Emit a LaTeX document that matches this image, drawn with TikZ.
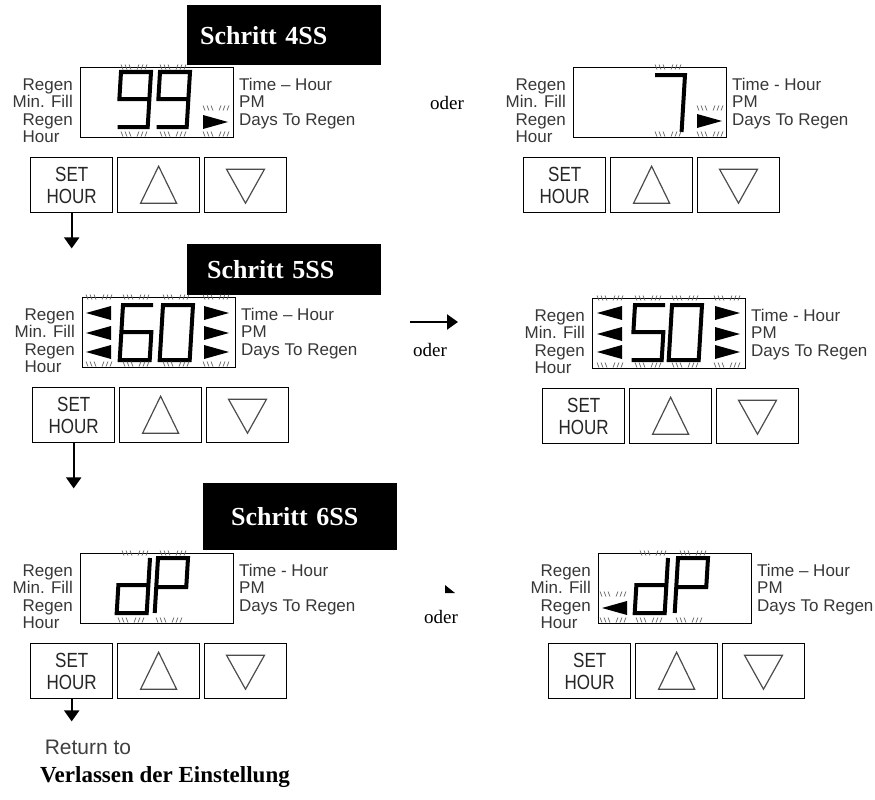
\documentclass[tikz,border=0pt]{standalone}
\usepackage{fontspec}
\setmainfont{Liberation Serif}
\newfontfamily\lcdfont{Liberation Sans}
\newfontfamily\keyfont{Liberation Sans}[FakeStretch=0.83]
\usetikzlibrary{arrows.meta,positioning}
\tikzset{
  lcdbox/.style={draw,line width=1.4pt,minimum width=153pt,minimum height=70pt,inner sep=0pt},
  keybox/.style={draw,line width=1.4pt,minimum width=82pt,minimum height=55pt,inner sep=0pt,align=center,
    font=\keyfont\fontsize{20.5}{22.5}\selectfont,text=black!85},
  lcdlabel/.style={font=\lcdfont\fontsize{17}{18}\selectfont,text=black!78,inner sep=0pt},
  stepbox/.style={fill=black,text=white,font=\bfseries\fontsize{26}{30}\selectfont,inner sep=0pt,anchor=north west},
  segline/.style={line width=4pt,line join=miter,black,xslant=0.06},
  hatchline/.style={line width=0.7pt,black!60},
  keytri/.style={line width=1.2pt,black!70,line join=miter},
  flowarrow/.style={line width=2.2pt,-{Triangle[width=15pt,length=11pt]}},
  lcd9/.pic={\draw[segline] (0,55) -- (30,55) -- (30,0) -- (0,0) -- (0,27) -- (30,27);},
  lcd7/.pic={\draw[segline] (0,0) -- (30,0) -- (30,57);},
  lcd6/.pic={\draw[segline] (30,0) -- (0,0) -- (0,55) -- (30,55) -- (30,27) -- (0,27);},
  lcd5/.pic={\draw[segline] (30,0) -- (0,0) -- (0,27) -- (30,27) -- (30,55) -- (0,55);},
  lcd0/.pic={\draw[segline] (0,0) -- (30,0) -- (30,55) -- (0,55) -- cycle;},
  lcdd/.pic={\draw[segline] (30,0) -- (30,55) -- (0,55) -- (0,27) -- (30,27);},
  lcdP/.pic={\draw[segline] (0,55) -- (0,0) -- (30,0) -- (30,29) -- (0,29);},
  tright/.pic={\fill (0,-7) -- (25,0) -- (0,7) -- cycle;},
  tleft/.pic={\fill (25,-7) -- (0,0) -- (25,7) -- cycle;},
  hatch/.pic={\foreach \i in {0,4,8} {\draw[hatchline] (\i,-2.5) -- (\i+2,2.5);
    \draw[hatchline] (\i+18,-2.5) -- (\i+16,2.5);}},
  uptri/.pic={\draw[keytri] (-18,18) -- (0,-19) -- (18,18) -- cycle;},
  dntri/.pic={\draw[keytri] (-19,-16) -- (19,-16) -- (0,18) -- cycle;}
}
\newcommand{\lcdpanel}[4]{%
  \node[lcdbox,anchor=north west] (#1lcd) at (#2,#3) {};
  \node[lcdlabel,anchor=base east] (#1rg) at (#2-7,#3+23) {Regen};
  \node[lcdlabel,anchor=base east] (#1mf) at (#2-7,#3+40.5) {Min. Fill};
  \node[lcdlabel,anchor=base east] (#1rh) at (#2-7,#3+58) {Regen};
  \node[lcdlabel,anchor=base west] (#1hr) at ([yshift=-17.3pt]#1rh.base west) {Hour};
  \node[lcdlabel,anchor=base west] (#1th) at (#2+159,#3+23) {#4};
  \node[lcdlabel,anchor=base west] (#1pm) at (#2+159,#3+40.5) {PM};
  \node[lcdlabel,anchor=base west] (#1dr) at (#2+159,#3+58) {Days To Regen};
  \node[keybox,anchor=north west] (#1set) at (#2-50,#3+90) {SET\\HOUR};
  \node[keybox,right=3.5pt of #1set] (#1up) {};
  \node[keybox,right=3.5pt of #1up] (#1dn) {};
  \pic at (#1up) {uptri};
  \pic at (#1dn) {dntri};
}

\begin{document}
\begin{tikzpicture}[x=1pt,y=-1pt]
\useasboundingbox (0,0) rectangle (875,800);
\fill[white] (0,0) rectangle (875,800);

\node[stepbox,minimum height=60pt,inner xsep=13pt,text width=168pt,align=left] (s4) at (187,5) {Schritt 4SS};
\node[stepbox,minimum height=51pt,inner xsep=20pt,text width=154pt,align=left] (s5) at (187,244) {Schritt 5SS};
\node[stepbox,minimum height=67pt,inner xsep=28pt,text width=138pt,align=left] (s6) at (203,483) {Schritt 6SS};

\lcdpanel{pa}{80}{67}{Time – Hour}
\lcdpanel{pb}{573}{67}{Time - Hour}
\lcdpanel{pc}{82}{297}{Time – Hour}
\lcdpanel{pd}{592}{298}{Time - Hour}
\lcdpanel{pe}{80}{553}{Time - Hour}
\lcdpanel{pf}{598}{553}{Time – Hour}

\pic at (121,72) {lcd9}; \pic at (160,72) {lcd9};
\pic at (203,122) {tright};
\foreach \hx/\hy in {121/67,160/67,121/134,160/134,203/108,203/134} \pic at (\hx,\hy) {hatch};

\pic at (655,75) {lcd7};
\pic at (697,121) {tright};
\foreach \hx/\hy in {655/67,655/134,697/108,697/134} \pic at (\hx,\hy) {hatch};

\foreach \ty in {313,333,352} {\pic at (86,\ty) {tleft}; \pic at (204,\ty) {tright};}
\pic at (123,305) {lcd6}; \pic at (163,305) {lcd0};
\foreach \hx in {86,123,163,203} {\pic at (\hx,297) {hatch}; \pic at (\hx,364) {hatch};}

\foreach \ty in {313,334,352} {\pic at (597,\ty) {tleft}; \pic at (715,\ty) {tright};}
\pic at (635,305) {lcd5}; \pic at (672,305) {lcd0};
\foreach \hx in {597,635,672,714} {\pic at (\hx,298) {hatch}; \pic at (\hx,365) {hatch};}

\pic at (120,558) {lcdd}; \pic at (158,558) {lcdP};
\foreach \hx in {122,160} {\pic at (\hx,553) {hatch};}
\foreach \hx in {118,156} {\pic at (\hx,620) {hatch};}

\pic at (602,608) {tleft};
\pic at (638,558) {lcdd}; \pic at (678,558) {lcdP};
\foreach \hx/\hy in {600/594,600/620,640/553,680/553,636/620,676/620} \pic at (\hx,\hy) {hatch};

\node (or1) at (447,103) {\fontsize{19}{22}\selectfont oder};
\node (or2) at (430,350) {\fontsize{19}{22}\selectfont oder};
\node (or3) at (441,617) {\fontsize{19}{22}\selectfont oder};

\coordinate (padown) at ([yshift=-35pt]paset.south);
\coordinate (pcdown) at ([yshift=-45pt]pcset.south);
\coordinate (pedown) at ([yshift=-22pt]peset.south);
\draw[flowarrow] (paset) -- (padown);
\draw[flowarrow] (pcset) -- (pcdown);
\draw[flowarrow] (peset) -- (pedown);

\coordinate (mfrom) at (410,322);
\coordinate (mto) at (458,322);
\draw[flowarrow] (mfrom) -- (mto);
\fill (445,585) -- (455,593) -- (445,593) -- cycle;

\node[font=\lcdfont\fontsize{21}{24}\selectfont,text=black!75] (ret) at (88,747) {Return to};
\node[font=\bfseries\fontsize{23}{26}\selectfont] (quit) at (165,777) {Verlassen der Einstellung};
\end{tikzpicture}
\end{document}
